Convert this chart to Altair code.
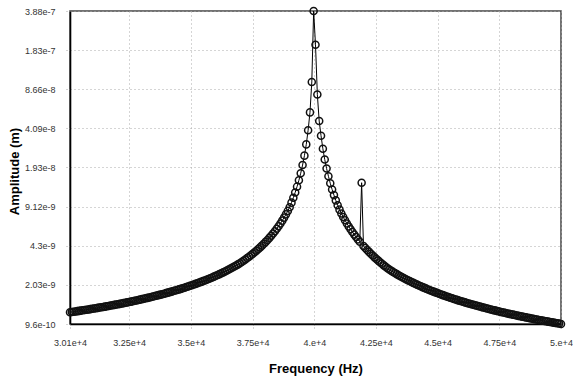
import altair as alt
import pandas as pd

# Frequency samples (Hz)
freq = [
    30100, 30175, 30250, 30324, 30399, 30474, 30549, 30624, 30698, 30773,
    30848, 30923, 30998, 31073, 31147, 31222, 31297, 31372, 31447, 31521,
    31596, 31671, 31746, 31821, 31895, 31970, 32045, 32120, 32195, 32270,
    32344, 32419, 32494, 32569, 32644, 32718, 32793, 32868, 32943, 33018,
    33092, 33167, 33242, 33317, 33392, 33467, 33541, 33616, 33691, 33766,
    33841, 33915, 33990, 34065, 34140, 34215, 34289, 34364, 34439, 34514,
    34589, 34664, 34738, 34813, 34888, 34963, 35038, 35112, 35187, 35262,
    35337, 35412, 35486, 35561, 35636, 35711, 35786, 35861, 35935, 36010,
    36085, 36160, 36235, 36309, 36384, 36459, 36534, 36609, 36683, 36758,
    36833, 36908, 36983, 37058, 37132, 37207, 37282, 37357, 37432, 37506,
    37581, 37656, 37731, 37806, 37880, 37955, 38030, 38105, 38180, 38255,
    38329, 38404, 38479, 38554, 38629, 38703, 38778, 38853, 38928, 39003,
    39077, 39152, 39227, 39302, 39377, 39451, 39526, 39601, 39676, 39751,
    39826, 39900, 39975,
    40050, 40125, 40200, 40274, 40349, 40424, 40499, 40574, 40648, 40723,
    40798, 40873, 40948, 41023, 41097, 41172, 41247, 41322, 41397, 41471,
    41546, 41621, 41696, 41771, 41845, 41920, 41995, 42070, 42145, 42220,
    42294, 42369, 42444, 42519, 42594, 42668, 42743, 42818, 42893, 42968,
    43043, 43117, 43192, 43267, 43342, 43417, 43491, 43566, 43641, 43716,
    43791, 43865, 43940, 44015, 44090, 44165, 44240, 44314, 44389, 44464,
    44539, 44614, 44688, 44763, 44838, 44913, 44988, 45062, 45137, 45212,
    45287, 45362, 45436, 45511, 45586, 45661, 45736, 45811, 45885, 45960,
    46035, 46110, 46185, 46259, 46334, 46409, 46484, 46559, 46633, 46708,
    46783, 46858, 46933, 47008, 47082, 47157, 47232, 47307, 47382, 47456,
    47531, 47606, 47681, 47756, 47830, 47905, 47980, 48055, 48130, 48205,
    48279, 48354, 48429, 48504, 48579, 48653, 48728, 48803, 48878, 48953,
    49027, 49102, 49177, 49252, 49327, 49402, 49476, 49551, 49626, 49701,
    49776, 49850, 49925, 50000,
]

# Amplitude, in units of 1e-9 m
amp_nm = [
    1.200, 1.206, 1.213, 1.219, 1.226, 1.232, 1.239, 1.246, 1.253, 1.260,
    1.267, 1.274, 1.282, 1.289, 1.297, 1.305, 1.313, 1.321, 1.329, 1.337,
    1.346, 1.355, 1.364, 1.373, 1.382, 1.391, 1.401, 1.410, 1.420, 1.430,
    1.440, 1.451, 1.462, 1.472, 1.484, 1.495, 1.506, 1.518, 1.530, 1.543,
    1.555, 1.568, 1.581, 1.595, 1.608, 1.623, 1.637, 1.652, 1.667, 1.682,
    1.698, 1.714, 1.731, 1.748, 1.765, 1.783, 1.802, 1.820, 1.840, 1.860,
    1.880, 1.901, 1.923, 1.945, 1.968, 1.992, 2.016, 2.041, 2.067, 2.093,
    2.121, 2.149, 2.179, 2.209, 2.240, 2.273, 2.306, 2.341, 2.377, 2.415,
    2.454, 2.494, 2.536, 2.580, 2.625, 2.673, 2.722, 2.774, 2.828, 2.884,
    2.943, 3.005, 3.071, 3.144, 3.222, 3.305, 3.392, 3.484, 3.581, 3.684,
    3.794, 3.911, 4.035, 4.168, 4.310, 4.463, 4.627, 4.804, 4.996, 5.204,
    5.431, 5.679, 5.951, 6.252, 6.585, 6.957, 7.375, 7.847, 8.385, 9.006,
    9.827, 10.79, 11.95, 13.35, 15.08, 17.29, 20.20, 24.20, 30.04, 39.4,
    55.5, 99.5, 388.0,
    203.0, 78.2, 47.0, 35.5, 27.6, 22.5, 18.94, 16.29, 14.26, 12.65,
    11.35, 10.26, 9.35, 8.59, 7.99, 7.46, 7.00, 6.59, 6.22, 5.89,
    5.59, 5.32, 5.08, 4.85, 4.64, 14.4, 4.28, 4.11, 3.96, 3.82,
    3.68, 3.56, 3.44, 3.33, 3.23, 3.13, 3.04, 2.95, 2.87, 2.79,
    2.721, 2.660, 2.602, 2.547, 2.494, 2.444, 2.395, 2.349, 2.305, 2.262,
    2.221, 2.182, 2.144, 2.108, 2.073, 2.039, 2.006, 1.975, 1.944, 1.915,
    1.887, 1.859, 1.832, 1.807, 1.782, 1.757, 1.734, 1.711, 1.689, 1.667,
    1.646, 1.626, 1.606, 1.587, 1.568, 1.550, 1.532, 1.515, 1.498, 1.482,
    1.466, 1.450, 1.435, 1.420, 1.406, 1.391, 1.378, 1.364, 1.351, 1.338,
    1.325, 1.313, 1.301, 1.289, 1.277, 1.266, 1.255, 1.244, 1.233, 1.223,
    1.212, 1.202, 1.193, 1.183, 1.173, 1.164, 1.155, 1.146, 1.137, 1.129,
    1.120, 1.112, 1.104, 1.096, 1.088, 1.080, 1.072, 1.065, 1.057, 1.050,
    1.043, 1.036, 1.029, 1.022, 1.016, 1.009, 1.003, 0.996, 0.990, 0.984,
    0.978, 0.972, 0.966, 0.958,
]

x_ticks = [30100, 32500, 35000, 37500, 40000, 42500, 45000, 47500, 50000]
x_labels = ["3.01e+4", "3.25e+4", "3.5e+4", "3.75e+4", "4.e+4",
            "4.25e+4", "4.5e+4", "4.75e+4", "5.e+4"]
y_ticks = [9.58e-10, 2.03e-9, 4.3e-9, 9.12e-9, 1.93e-8, 4.09e-8,
           8.66e-8, 1.83e-7, 3.88e-7]
y_labels = ["9.6e-10", "2.03e-9", "4.3e-9", "9.12e-9", "1.93e-8",
            "4.09e-8", "8.66e-8", "1.83e-7", "3.88e-7"]


def label_chain(ticks, labels, geometric=False):
    expr = "'" + labels[-1] + "'"
    for i in range(len(ticks) - 2, -1, -1):
        if geometric:
            mid = (ticks[i] * ticks[i + 1]) ** 0.5
        else:
            mid = (ticks[i] + ticks[i + 1]) / 2
        expr = "datum.value < " + repr(mid) + " ? '" + labels[i] + "' : (" + expr + ")"
    return expr


df = pd.DataFrame({
    "f": freq,
    "a": [v * 1e-9 for v in amp_nm],
    "i": list(range(len(freq))),
})

FONT = "Liberation Sans"

x_enc = alt.X(
    "f:Q",
    scale=alt.Scale(domain=[x_ticks[0], x_ticks[-1]], nice=False, zero=False),
    axis=alt.Axis(
        values=x_ticks,
        labelExpr=label_chain(x_ticks, x_labels),
        title="Frequency (Hz)",
        titleX=245.5,
        titleY=44,
        titleBaseline="middle",
        labelPadding=9,
        labelFlush=False,
    ),
)
y_enc = alt.Y(
    "a:Q",
    scale=alt.Scale(type="log", domain=[y_ticks[0], y_ticks[-1]], nice=False),
    axis=alt.Axis(
        values=y_ticks,
        labelExpr=label_chain(y_ticks, y_labels, geometric=True),
        title="Amplitude (m)",
        titleX=-56,
        titleY=160,
        titleBaseline="middle",
        titleAlign="center",
        labelPadding=10,
        labelFlush=False,
    ),
)

base = alt.Chart(df)
line = base.mark_line(color="black", strokeWidth=1, clip=False).encode(
    x=x_enc, y=y_enc, order="i:Q"
)
pts = base.mark_point(
    shape="circle", size=50, filled=False, color="#111",
    strokeWidth=1.5, opacity=1, clip=False
).encode(x=x_enc, y=y_enc)

chart = (
    alt.layer(line, pts)
    .properties(
        width=491,
        height=313,
        padding={"left": 70, "top": 11, "right": 12, "bottom": 52},
        autosize=alt.AutoSizeParams(type="none"),
        background="white",
    )
    .configure_view(stroke="#444", strokeWidth=1.5)
    .configure_axis(
        labelFont=FONT,
        labelFontSize=9,
        labelColor="#333",
        titleFont=FONT,
        titleFontSize=13,
        titleFontWeight="bold",
        titleColor="black",
        domainColor="black",
        domainWidth=1.6,
        tickColor="#aaa",
        tickSize=5,
        tickDash=[1, 2],
        grid=True,
        gridColor="#aaa",
        gridDash=[1, 3],
        gridWidth=1,
    )
)

chart.save("out.html", embed_options={"renderer": "svg", "actions": False})
